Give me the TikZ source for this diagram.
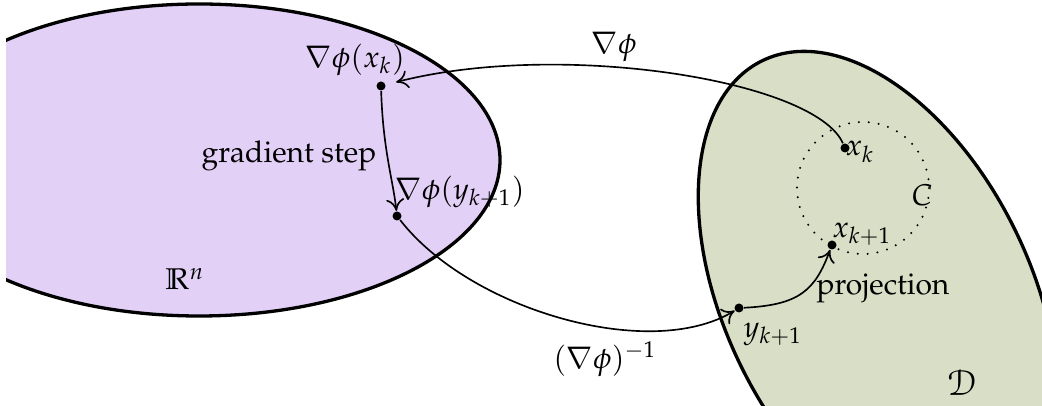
\documentclass[tikz,border=0pt]{standalone}
\usepackage[T1]{fontenc}
\usepackage{mathpazo}
\usepackage{amssymb}
\usepackage[mathscr]{eucal}
\usetikzlibrary{arrows.meta}
\definecolor{rnfill}{RGB}{226,208,247}
\definecolor{dfill}{RGB}{216,223,198}
\begin{document}
\begin{tikzpicture}[x=0.3333pt,y=-0.3333pt,
  region/.style={line width=1.1pt},
  conn/.style={line width=0.55pt,-{To[length=4pt,width=6pt]}},
  pt/.style={circle,fill=black,inner sep=0pt,minimum size=3pt},
  lbl/.style={inner sep=0pt},
  dotcirc/.style={line width=0.75pt,line cap=round,dash pattern=on 0pt off 3.3pt}]
\useasboundingbox (0,0) rectangle (1042,406);
\begin{scope}
  \clip (6,-5) rectangle (1042,406);
  \draw[region,fill=rnfill] (199,160) ellipse [x radius=301, y radius=156];
  \draw[region,fill=dfill,rotate around={-64:(878,298)}] (878,298) ellipse [x radius=264, y radius=153];
\end{scope}
\draw[dotcirc] (863,188) circle [radius=66];
\node[pt] (gx) at (381,86) {};
\node[pt] (gy) at (397,216) {};
\node[pt] (xk) at (845,148) {};
\node[pt] (xk1) at (832,245) {};
\node[pt] (yk1) at (739,308) {};
\draw[conn,shorten >=3.5pt] (xk) .. controls (815,80) and (560,40) .. (gx);
\draw[conn] (gx) .. controls (383,150) and (393,180) .. (gy);
\draw[conn] (gy) .. controls (470,310) and (650,362) .. (yk1);
\draw[conn] (yk1) .. controls (800,305) and (815,290) .. (xk1);
\node[lbl] (lgx) at (355,60) {$\nabla\phi(x_k)$};
\node[lbl] (lgy) at (460,192) {$\nabla\phi(y_{k+1})$};
\node[lbl] (lgs) at (289,156) {gradient step};
\node[lbl] (lgrad) at (614,47) {$\nabla\phi$};
\node[lbl] (linv) at (605,359) {$(\nabla\phi)^{-1}$};
\node[lbl] (lxk) at (860,152) {$x_k$};
\node[lbl] (lC) at (922,195) {$C$};
\node[lbl] (lxk1) at (862,234) {$x_{k+1}$};
\node[lbl] (lproj) at (883,288) {projection};
\node[lbl] (lyk1) at (773,334) {$y_{k+1}$};
\node[lbl] (lD) at (962,383) {\large$\mathscr{D}$};
\node[lbl] (lR) at (185,279) {$\mathbb{R}^n$};
\end{tikzpicture}
\end{document}
